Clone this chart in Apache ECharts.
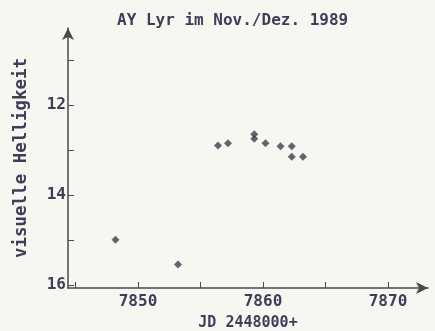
<!DOCTYPE html>
<html>
<head>
<meta charset="utf-8">
<script src="https://cdn.jsdelivr.net/npm/echarts@6/dist/echarts.min.js"></script>
<style>
  html, body { margin: 0; padding: 0; background: #f8f6f1; }
  #chart { width: 435px; height: 331px; }
</style>
</head>
<body>
<div id="chart"></div>
<script>
// Julian dates (JD - 2448000) and visual magnitudes of AY Lyr
const jd = [7848.2, 7853.2, 7856.4, 7857.2, 7859.3, 7859.3, 7860.2, 7861.4, 7862.3, 7862.3, 7863.2];
const mag = [15.0, 15.55, 12.9, 12.85, 12.65, 12.75, 12.85, 12.92, 12.92, 13.15, 13.15];
const xTicks = [7845, 7850, 7855, 7860, 7865, 7870];
const xLabels = [7850, 7860, 7870];
const yTicks = [11, 12, 13, 14, 15, 16];
const yLabels = [12, 14, 16];

const ink = '#3d3f5a';
const font = 'DejaVu Sans Mono';

const chart = echarts.init(document.getElementById('chart'), null, { renderer: 'canvas' });
chart.setOption({
  backgroundColor: '#f8f6f1',
  animation: false,
  title: {
    text: 'AY Lyr im Nov./Dez. 1989',
    left: 112, top: 8,
    textStyle: { fontFamily: font, fontWeight: 'bold', fontSize: 16, color: ink }
  },
  grid: { left: 68, right: 7, top: 28, bottom: 43, outerBoundsMode: 'none' },
  xAxis: {
    type: 'value',
    min: 7844.4, max: 7873.2,
    name: 'JD 2448000+',
    nameLocation: 'middle', nameGap: 28,
    nameTextStyle: { fontFamily: font, fontWeight: 'bold', fontSize: 15, color: ink },
    splitLine: { show: false },
    axisLine: { onZero: false, symbol: ['none', 'arrow'], symbolSize: [9, 12],
      lineStyle: { color: '#4a4a4e', width: 1.5 } },
    axisTick: { inside: true, length: 6, customValues: xTicks, lineStyle: { color: '#4a4a4e' } },
    axisLabel: { customValues: xLabels, margin: 6, formatter: v => String(v),
      fontFamily: font, fontWeight: 'bold', fontSize: 16, color: ink }
  },
  yAxis: {
    type: 'value',
    inverse: true,
    min: 10.29, max: 16.07,
    name: 'visuelle Helligkeit',
    nameLocation: 'middle', nameGap: 38, nameRotate: 90,
    nameTextStyle: { fontFamily: font, fontWeight: 'bold', fontSize: 17.5, color: ink },
    splitLine: { show: false },
    axisLine: { onZero: false, symbol: ['none', 'arrow'], symbolSize: [9, 12],
      lineStyle: { color: '#4a4a4e', width: 1.5 } },
    axisTick: { inside: true, length: 6, customValues: yTicks, lineStyle: { color: '#4a4a4e' } },
    axisLabel: { customValues: yLabels, margin: 2, formatter: v => String(v),
      fontFamily: font, fontWeight: 'bold', fontSize: 16, color: ink }
  },
  series: [{
    type: 'scatter',
    symbol: 'diamond',
    symbolSize: 8,
    itemStyle: { color: '#3f4050' },
    data: jd.map((d, i) => [d, mag[i]])
  }]
});
</script>
</body>
</html>
